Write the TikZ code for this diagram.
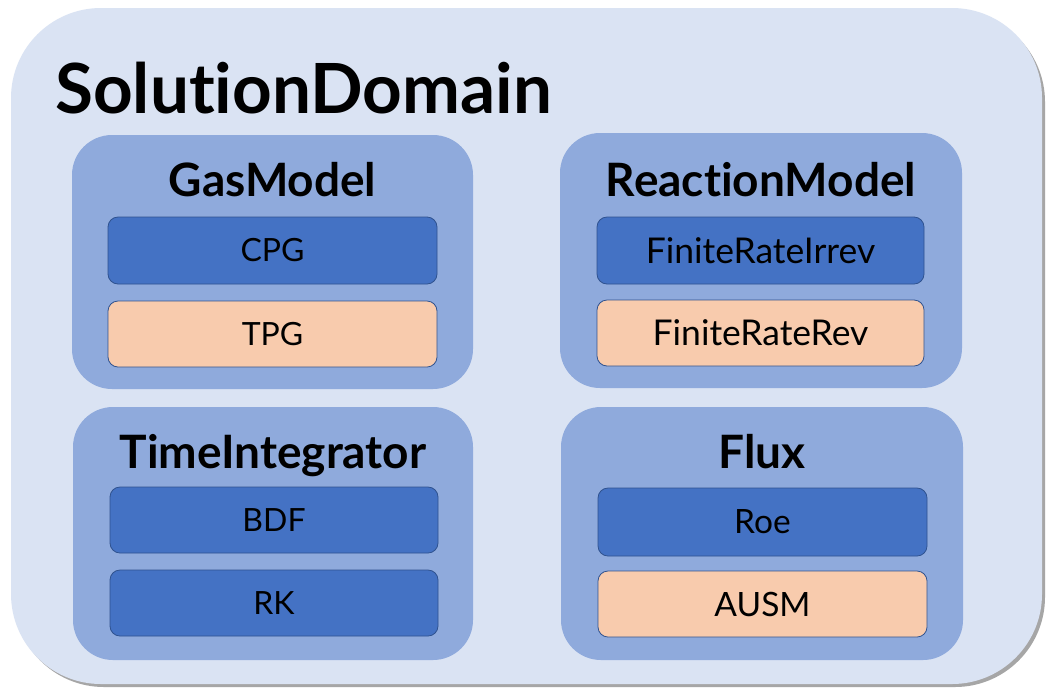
\documentclass[tikz,border=0pt]{standalone}
\usepackage{fontspec}
\setmainfont{Lato}[Ligatures={CommonOff}]
\definecolor{outerbg}{HTML}{DAE3F3}
\definecolor{groupbg}{HTML}{8FAADC}
\definecolor{dblue}{HTML}{4472C4}
\definecolor{peach}{HTML}{F8CBAD}
\definecolor{edgeblue}{HTML}{2F528F}
\tikzset{
  groupbox/.style={fill=groupbg, draw=none, rounded corners=40pt, inner sep=0pt},
  itembox/.style={draw=edgeblue, line width=0.8pt, rounded corners=10pt, inner sep=0pt,
     font=\fontsize{32}{38}\selectfont, text=black},
  biggeritem/.style={font=\fontsize{35.5}{42}\selectfont},
  bigitem/.style={font=\fontsize{33.5}{40}\selectfont},
  grouptitle/.style={font=\bfseries\fontsize{46}{55}\selectfont, text=black, inner sep=0pt},
}
\begin{document}
\begin{tikzpicture}[x=1pt,y=-1pt]
\useasboundingbox (0,0) rectangle (1056,697);
\fill[white] (0,0) rectangle (1056,697);
% shadow
\fill[black!35, rounded corners=90pt] (14,12) rectangle (1045,687);
\node[fill=outerbg, rounded corners=90pt, minimum width=1031pt, minimum height=676pt, inner sep=0pt] (outer) at (526.5,346) {};
\node[anchor=base west, font=\bfseries\fontsize{69.2}{83}\selectfont, inner sep=0pt] (title) at (55,113) {SolutionDomain};
% groups
\node[groupbox, minimum width=401pt, minimum height=254pt] (gas) at (272.5,262) {};
\node[groupbox, minimum width=402pt, minimum height=255pt] (react) at (761,260.5) {};
\node[groupbox, minimum width=400pt, minimum height=253pt] (time) at (273,533.5) {};
\node[groupbox, minimum width=402pt, minimum height=253pt] (flux) at (762,533.5) {};
% titles
\node[grouptitle, anchor=base] (gast) at (272.5,196) {GasModel};
\node[grouptitle, anchor=base] (reactt) at (761,196) {ReactionModel};
\node[grouptitle, anchor=base] (timet) at (273,468) {TimeIntegrator};
\node[grouptitle, anchor=base] (fluxt) at (762,468) {Flux};
% items
\node[itembox, fill=dblue, minimum width=329pt, minimum height=67pt] (cpg) at (272.5,250.5) {CPG};
\node[itembox, fill=peach, minimum width=329pt, minimum height=66pt] (tpg) at (272.5,334) {TPG};
\node[itembox, biggeritem, fill=dblue, minimum width=327pt, minimum height=67pt] (fri) at (760.5,250.5) {FiniteRateIrrev};
\node[itembox, biggeritem, fill=peach, minimum width=327pt, minimum height=66pt] (frr) at (760.5,333) {FiniteRateRev};
\node[itembox, fill=dblue, minimum width=328pt, minimum height=66pt] (bdf) at (274,520) {BDF};
\node[itembox, fill=dblue, minimum width=328pt, minimum height=66pt] (rk) at (274,603) {RK};
\node[itembox, bigitem, fill=dblue, minimum width=329pt, minimum height=68pt] (roe) at (762.5,522) {Roe};
\node[itembox, bigitem, fill=peach, minimum width=329pt, minimum height=66pt] (ausm) at (762.5,604) {AUSM};
\end{tikzpicture}
\end{document}
